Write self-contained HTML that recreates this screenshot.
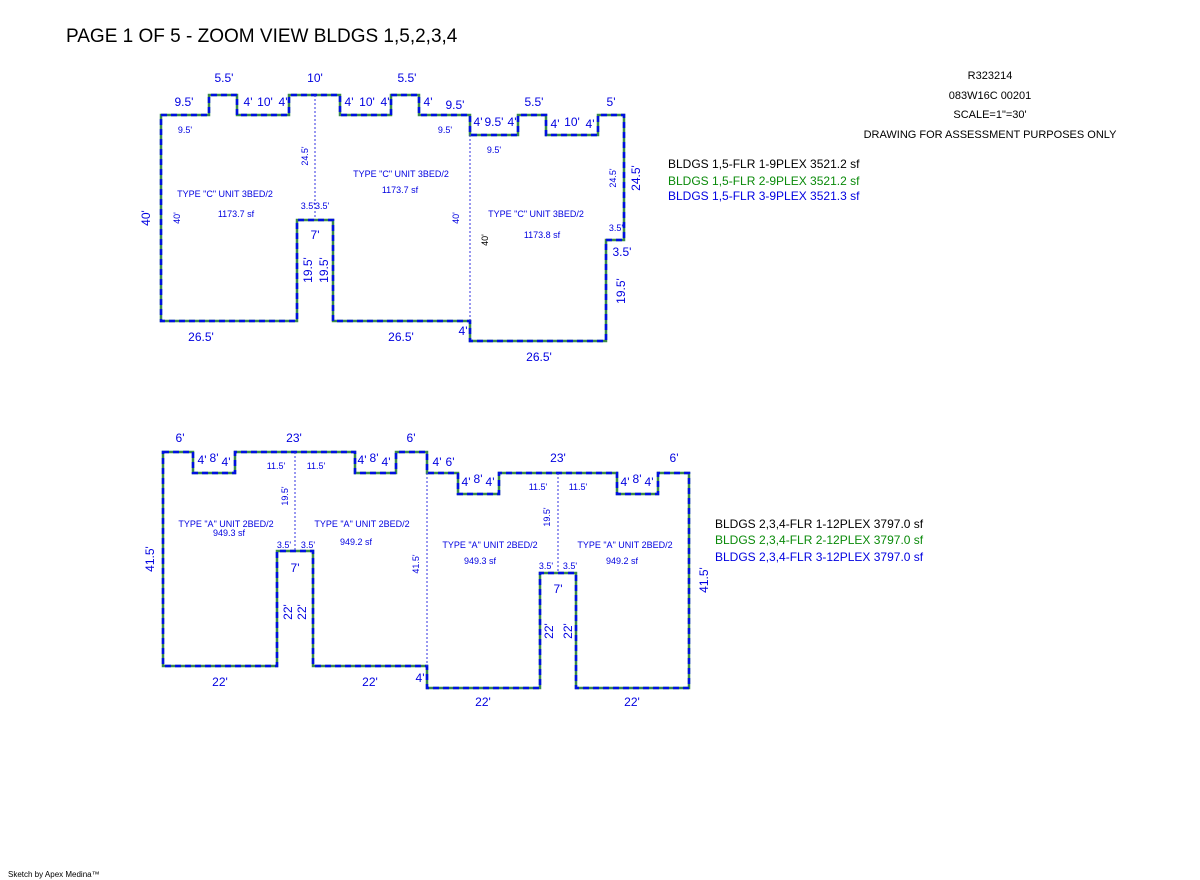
<!DOCTYPE html>
<html><head><meta charset="utf-8"><style>
body{margin:0;background:#fff;width:1200px;height:880px;overflow:hidden}
svg{display:block}
text{font-family:"Liberation Sans",sans-serif;fill:#0000e0}
.s{font-size:9px}.m{font-size:12px}
text.k{fill:#000}
</style></head><body>
<svg width="1200" height="880" viewBox="0 0 1200 880">
<text class="k" x="66" y="42" style="font-size:19px">PAGE 1 OF 5 - ZOOM VIEW BLDGS 1,5,2,3,4</text>
<g style="font-size:11px" text-anchor="middle">
<text class="k" x="990" y="79">R323214</text><text class="k" x="990" y="99">083W16C 00201</text>
<text class="k" x="990" y="118">SCALE=1"=30'</text><text class="k" x="990" y="138">DRAWING FOR ASSESSMENT PURPOSES ONLY</text></g>
<text class="k" x="668" y="168" style="font-size:12px">BLDGS 1,5-FLR 1-9PLEX  3521.2 sf</text>
<text x="668" y="185" style="font-size:12px;fill:#0a8a0a">BLDGS 1,5-FLR 2-9PLEX  3521.2 sf</text>
<text x="668" y="200" style="font-size:12px">BLDGS 1,5-FLR 3-9PLEX  3521.3 sf</text>
<text class="k" x="715" y="528" style="font-size:12px">BLDGS 2,3,4-FLR 1-12PLEX  3797.0 sf</text>
<text x="715" y="544" style="font-size:12px;fill:#0a8a0a">BLDGS 2,3,4-FLR 2-12PLEX  3797.0 sf</text>
<text x="715" y="561" style="font-size:12px">BLDGS 2,3,4-FLR 3-12PLEX  3797.0 sf</text>
<text class="k" x="8" y="877" style="font-size:8px">Sketch by Apex Medina™</text>
<g fill="none">
<path d="M161,115H209V95H237V115H289V95H340V115H391V95H419V115H470V135H518V115H546V135H598V115H624V240H606V341H470V321H333V220H297V321H161Z" stroke="#3a8a4a" stroke-width="2.5"/>
<path d="M161,115H209V95H237V115H289V95H340V115H391V95H419V115H470V135H518V115H546V135H598V115H624V240H606V341H470V321H333V220H297V321H161Z" stroke="#0010e0" stroke-width="2.5" stroke-dasharray="6 4"/>
<path d="M163,452H193V473H235V452H355V473H396V452H427V473H458V494H499V473H617V494H658V473H689V688H576V573H540V688H427V666H313V551H277V666H163Z" stroke="#3a8a4a" stroke-width="2.5"/>
<path d="M163,452H193V473H235V452H355V473H396V452H427V473H458V494H499V473H617V494H658V473H689V688H576V573H540V688H427V666H313V551H277V666H163Z" stroke="#0010e0" stroke-width="2.5" stroke-dasharray="6 4"/>
<g stroke="#3030e0" stroke-width="1" stroke-dasharray="2 2">
<path d="M315,95V220M470,135V321M295,452V551M427,473V666M558,473V573"/></g>
</g>
<g class="m" text-anchor="middle">
<text x="224" y="82">5.5'</text><text x="315" y="82">10'</text><text x="407" y="82">5.5'</text>
<text x="184" y="106">9.5'</text><text x="248" y="106">4'</text><text x="265" y="106">10'</text><text x="283" y="106">4'</text>
<text x="349" y="106">4'</text><text x="367" y="106">10'</text><text x="385" y="106">4'</text><text x="428" y="106">4'</text><text x="455" y="109">9.5'</text>
<text x="478" y="126">4'</text><text x="494" y="126">9.5'</text><text x="512" y="126">4'</text><text x="534" y="106">5.5'</text>
<text x="555" y="128">4'</text><text x="572" y="126">10'</text><text x="590" y="128">4'</text><text x="611" y="106">5'</text>
<text x="315" y="239">7'</text><text x="201" y="341">26.5'</text><text x="401" y="341">26.5'</text><text x="539" y="361">26.5'</text>
<text x="463" y="335">4'</text><text x="622" y="256">3.5'</text>
<text x="180" y="442">6'</text><text x="294" y="442">23'</text><text x="411" y="442">6'</text>
<text x="202" y="464">4'</text><text x="214" y="462">8'</text><text x="226" y="466">4'</text>
<text x="362" y="464">4'</text><text x="374" y="462">8'</text><text x="386" y="466">4'</text>
<text x="437" y="466">4'</text><text x="450" y="466">6'</text><text x="558" y="462">23'</text><text x="674" y="462">6'</text>
<text x="466" y="486">4'</text><text x="478" y="483">8'</text><text x="490" y="486">4'</text>
<text x="625" y="486">4'</text><text x="637" y="483">8'</text><text x="649" y="486">4'</text>
<text x="295" y="572">7'</text><text x="558" y="593">7'</text>
<text x="220" y="686">22'</text><text x="370" y="686">22'</text><text x="483" y="706">22'</text><text x="632" y="706">22'</text><text x="420" y="682">4'</text>
</g>
<g class="s" text-anchor="middle">
<text x="185" y="133">9.5'</text><text x="445" y="133">9.5'</text><text x="494" y="153">9.5'</text>
<text x="225" y="197">TYPE "C" UNIT 3BED/2</text><text x="236" y="217">1173.7 sf</text>
<text x="401" y="177">TYPE "C" UNIT 3BED/2</text><text x="400" y="193">1173.7 sf</text>
<text x="536" y="217">TYPE "C" UNIT 3BED/2</text><text x="542" y="238">1173.8 sf</text>
<text x="315" y="209">3.5'3.5'</text><text x="616" y="231">3.5'</text>
<text x="276" y="469">11.5'</text><text x="316" y="469">11.5'</text><text x="538" y="490">11.5'</text><text x="578" y="490">11.5'</text>
<text x="226" y="527">TYPE "A" UNIT 2BED/2</text><text x="229" y="536">949.3 sf</text>
<text x="362" y="527">TYPE "A" UNIT 2BED/2</text><text x="356" y="545">949.2 sf</text>
<text x="490" y="548">TYPE "A" UNIT 2BED/2</text><text x="480" y="564">949.3 sf</text>
<text x="625" y="548">TYPE "A" UNIT 2BED/2</text><text x="622" y="564">949.2 sf</text>
<text x="284" y="548">3.5'</text><text x="308" y="548">3.5'</text><text x="546" y="569">3.5'</text><text x="570" y="569">3.5'</text>
</g>
<g class="m" text-anchor="middle">
<text transform="translate(150,218) rotate(-90)">40'</text>
<text transform="translate(312,270) rotate(-90)">19.5'</text><text transform="translate(328,270) rotate(-90)">19.5'</text>
<text transform="translate(640,178) rotate(-90)">24.5'</text><text transform="translate(625,291) rotate(-90)">19.5'</text>
<text transform="translate(154,559) rotate(-90)">41.5'</text>
<text transform="translate(292,612) rotate(-90)">22'</text><text transform="translate(306,612) rotate(-90)">22'</text>
<text transform="translate(553,631) rotate(-90)">22'</text><text transform="translate(572,631) rotate(-90)">22'</text>
<text transform="translate(708,580) rotate(-90)">41.5'</text>
</g>
<g class="s" text-anchor="middle">
<text transform="translate(308,156) rotate(-90)">24.5'</text>
<text transform="translate(180,218) rotate(-90)">40'</text><text transform="translate(459,218) rotate(-90)">40'</text>
<text class="k" transform="translate(488,240) rotate(-90)">40'</text>
<text transform="translate(616,178) rotate(-90)">24.5'</text>
<text transform="translate(288,496) rotate(-90)">19.5'</text><text transform="translate(550,517) rotate(-90)">19.5'</text>
<text transform="translate(419,564) rotate(-90)">41.5'</text>
</g>
</svg>
</body></html>
